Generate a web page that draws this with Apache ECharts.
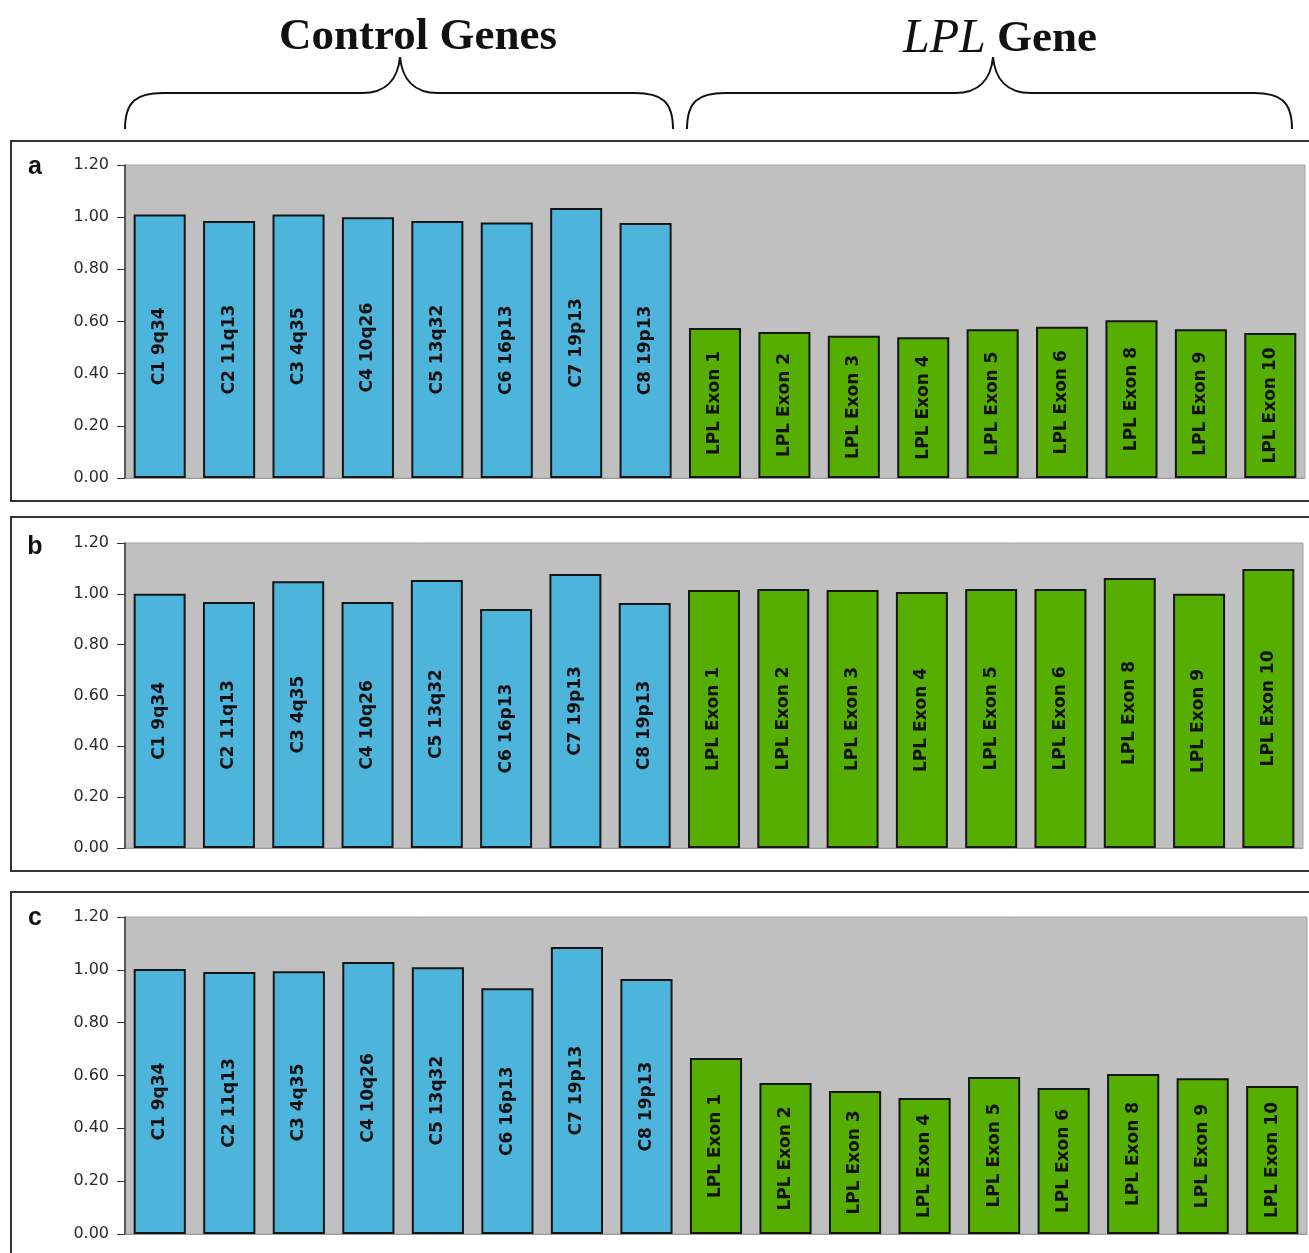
<!DOCTYPE html>
<html>
<head>
<meta charset="utf-8">
<script src="https://cdn.jsdelivr.net/npm/echarts@6/dist/echarts.min.js"></script>
<style>
  html, body { margin: 0; padding: 0; background: #fff; }
  #chart { width: 1309px; height: 1253px; }
</style>
</head>
<body>
<div id="chart"></div>
<script>
var categories = ['C1 9q34', 'C2 11q13', 'C3 4q35', 'C4 10q26', 'C5 13q32', 'C6 16p13', 'C7 19p13', 'C8 19p13',
    'LPL Exon 1', 'LPL Exon 2', 'LPL Exon 3', 'LPL Exon 4', 'LPL Exon 5', 'LPL Exon 6', 'LPL Exon 8', 'LPL Exon 9', 'LPL Exon 10'];
var controlCount = 8;

// panel a
var valuesA = [1.01, 0.985, 1.01, 1.00, 0.985, 0.98, 1.035, 0.978,
    0.575, 0.56, 0.545, 0.54, 0.57, 0.58, 0.605, 0.57, 0.556];
// panel b
var valuesB = [1.00, 0.968, 1.05, 0.968, 1.054, 0.94, 1.078, 0.964,
    1.015, 1.019, 1.015, 1.007, 1.019, 1.019, 1.062, 1.00, 1.098];
// panel c
var valuesC = [1.003, 0.992, 0.995, 1.03, 1.01, 0.93, 1.086, 0.965,
    0.666, 0.572, 0.541, 0.515, 0.594, 0.553, 0.606, 0.59, 0.56];

var panelLetters = ['a', 'b', 'c'];

(function() {
    var chart = echarts.init(document.getElementById('chart'));
    var blue = '#4db5dc', green = '#56ae00';

    var grids = [
        {left: 125, top: 165, width: 1180, height: 313},
        {left: 125, top: 543, width: 1178, height: 305},
        {left: 125, top: 917, width: 1182, height: 317}
    ];
    var allValues = [valuesA, valuesB, valuesC];

    var xAxes = [], yAxes = [], series = [];
    grids.forEach(function(g, k) {
        g.show = true;
        g.backgroundColor = '#c0c0c0';
        g.borderColor = '#a4a4a4';
        g.borderWidth = 1;
        xAxes.push({
            gridIndex: k,
            type: 'category',
            data: categories,
            axisLine: {show: true, lineStyle: {color: '#9a9a9a'}},
            axisTick: {show: false},
            axisLabel: {show: false}
        });
        yAxes.push({
            gridIndex: k,
            type: 'value',
            min: 0,
            max: 1.2,
            interval: 0.2,
            axisLine: {show: true, lineStyle: {color: '#333', width: 1.5}},
            axisTick: {show: true, length: 8, lineStyle: {color: '#333'}},
            splitLine: {show: false},
            axisLabel: {
                formatter: function(v) { return v.toFixed(2); },
                fontFamily: 'DejaVu Sans',
                fontSize: 16,
                color: '#2a2a2a',
                margin: 16
            }
        });
        series.push({
            type: 'bar',
            xAxisIndex: k,
            yAxisIndex: k,
            barCategoryGap: '25%',
            data: allValues[k].map(function(v, i) {
                return {value: v, itemStyle: {color: i < controlCount ? blue : green}};
            }),
            itemStyle: {borderColor: '#151515', borderWidth: 2},
            label: {
                show: true,
                position: 'inside',
                rotate: 90,
                formatter: '{b}',
                fontFamily: 'DejaVu Sans',
                fontWeight: 'bold',
                fontSize: 17,
                color: '#111'
            }
        });
    });

    // panel boxes and letters
    var boxes = [[11, 141, 1320, 360], [11, 517, 1320, 354], [11, 892, 1320, 400]];
    var letterY = [167, 547, 918];
    var graphic = [];
    boxes.forEach(function(b, k) {
        graphic.push({
            type: 'rect', silent: true, z: 0,
            shape: {x: b[0], y: b[1], width: b[2], height: b[3]},
            style: {fill: null, stroke: '#333', lineWidth: 2}
        });
        graphic.push({
            type: 'text', z: 10,
            style: {
                text: panelLetters[k], x: 35, y: letterY[k],
                font: 'bold 25px "Liberation Sans"', fill: '#111',
                align: 'center', verticalAlign: 'middle'
            }
        });
    });

    // curly braces under the group titles
    function brace(x0, x1, xm, yEnd, yLine, yPeak) {
        var s = {fill: null, stroke: '#111', lineWidth: 2};
        var r = 38;
        return [
            {type: 'bezierCurve', shape: {x1: x0, y1: yEnd, cpx1: x0, cpy1: yLine + 8, cpx2: x0 + 12, cpy2: yLine, x2: x0 + r, y2: yLine}, style: s},
            {type: 'line', shape: {x1: x0 + r, y1: yLine, x2: xm - r, y2: yLine}, style: s},
            {type: 'bezierCurve', shape: {x1: xm - r, y1: yLine, cpx1: xm - 14, cpy1: yLine, cpx2: xm - 2, cpy2: yLine - 14, x2: xm, y2: yPeak}, style: s},
            {type: 'bezierCurve', shape: {x1: xm, y1: yPeak, cpx1: xm + 2, cpy1: yLine - 14, cpx2: xm + 14, cpy2: yLine, x2: xm + r, y2: yLine}, style: s},
            {type: 'line', shape: {x1: xm + r, y1: yLine, x2: x1 - r, y2: yLine}, style: s},
            {type: 'bezierCurve', shape: {x1: x1 - r, y1: yLine, cpx1: x1 - 12, cpy1: yLine, cpx2: x1, cpy2: yLine + 8, x2: x1, y2: yEnd}, style: s}
        ];
    }
    graphic = graphic.concat(brace(125, 673, 400, 129, 93, 57));
    graphic = graphic.concat(brace(687, 1292, 993, 129, 93, 57));

    var option = {
        animation: false,
        backgroundColor: '#fff',
        title: [
            {
                text: 'Control Genes',
                left: 413, top: 10, textAlign: 'center',
                textStyle: {fontFamily: 'Liberation Serif', fontWeight: 'bold', fontSize: 45, color: '#111'}
            },
            {
                text: '{i|LPL} Gene',
                left: 995, top: 10, textAlign: 'center',
                textStyle: {
                    fontFamily: 'Liberation Serif', fontWeight: 'bold', fontSize: 45, color: '#111',
                    rich: {i: {fontFamily: 'Liberation Serif', fontStyle: 'italic', fontWeight: 'normal', fontSize: 48, color: '#111'}}
                }
            }
        ],
        grid: grids,
        xAxis: xAxes,
        yAxis: yAxes,
        series: series,
        graphic: graphic
    };
    chart.setOption(option);
})();
</script>
</body>
</html>
